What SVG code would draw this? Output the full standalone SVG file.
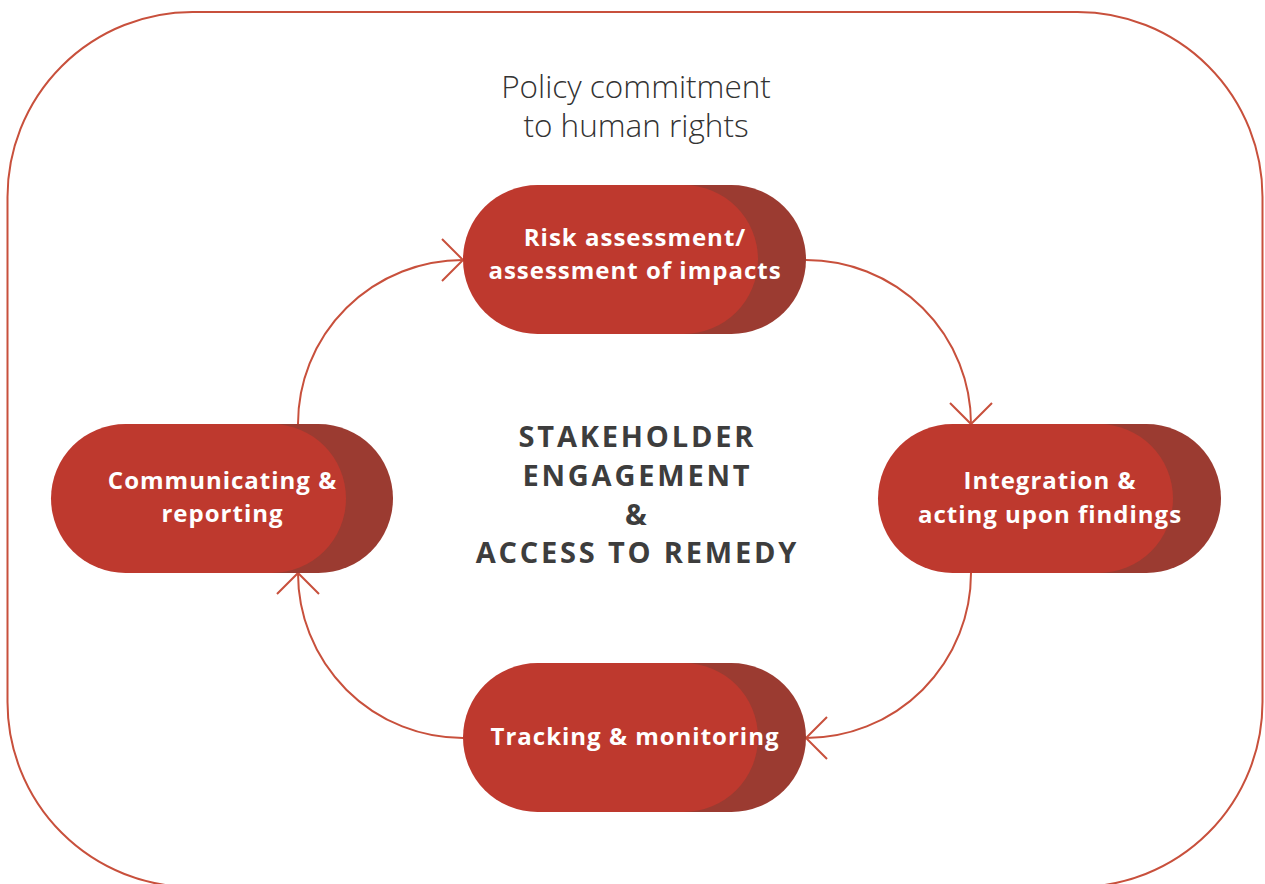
<svg xmlns="http://www.w3.org/2000/svg" width="1265" height="884" viewBox="0 0 1265 884">
<style>
.frame{fill:none;stroke:#c8503c;stroke-width:2}
.conn{fill:none;stroke:#c8503c;stroke-width:2}
.front{fill:#be392e}
.back{fill:#9b3b31}
.lbl{font-family:"Open Sans","Liberation Sans",sans-serif;font-weight:700;font-size:24px;fill:#ffffff;text-anchor:middle;letter-spacing:1px}
.center{font-family:"Open Sans","Liberation Sans",sans-serif;font-weight:700;font-size:29px;fill:#3d3d3d;text-anchor:middle;letter-spacing:2.8px}
.title{font-family:"Open Sans","Liberation Sans",sans-serif;font-weight:300;font-size:31.5px;fill:#333333;text-anchor:middle}
</style>
<defs>
<marker id="chev" markerUnits="userSpaceOnUse" markerWidth="30" markerHeight="50" refX="24" refY="24" orient="auto" viewBox="0 0 30 50">
<path d="M3,3 L24,24 L3,45" fill="none" stroke="#c8503c" stroke-width="2"/>
</marker>
</defs>
<rect class="frame" x="7.5" y="12" width="1255" height="875" rx="185" ry="185"/>
<text class="title" x="636" y="98">Policy commitment</text>
<text class="title" x="636" y="137">to human rights</text>
<g id="connectors">
<path class="conn" d="M298,424 A165,164 0 0 1 463,260" marker-end="url(#chev)"/>
<path class="conn" d="M806,260 A165,164 0 0 1 971,424" marker-end="url(#chev)"/>
<path class="conn" d="M971,573 A165,165 0 0 1 806,738" marker-end="url(#chev)"/>
<path class="conn" d="M463,738 A165,165 0 0 1 298,573" marker-end="url(#chev)"/>
</g>
<g id="node-risk">
<rect class="back" x="511" y="185" width="295" height="149" rx="74.5"/>
<rect class="front" x="463" y="185" width="295" height="149" rx="74.5"/>
<text class="lbl" x="635" y="246">Risk assessment/</text>
<text class="lbl" x="635" y="279">assessment of impacts</text>
</g>
<g id="node-integration">
<rect class="back" x="926" y="424" width="295" height="149" rx="74.5"/>
<rect class="front" x="878" y="424" width="295" height="149" rx="74.5"/>
<text class="lbl" x="1050" y="489">Integration &amp;</text>
<text class="lbl" x="1050" y="523">acting upon findings</text>
</g>
<g id="node-tracking">
<rect class="back" x="511" y="663" width="295" height="149" rx="74.5"/>
<rect class="front" x="463" y="663" width="295" height="149" rx="74.5"/>
<text class="lbl" x="635" y="745">Tracking &amp; monitoring</text>
</g>
<g id="node-communicating">
<rect class="back" x="98" y="424" width="295" height="149" rx="74.5"/>
<rect class="front" x="51" y="424" width="295" height="149" rx="74.5"/>
<text class="lbl" x="222.5" y="489">Communicating &amp;</text>
<text class="lbl" x="222.5" y="522">reporting</text>
</g>
<g id="center-label">
<text class="center" x="637.4" y="447">STAKEHOLDER</text>
<text class="center" x="637.4" y="486">ENGAGEMENT</text>
<text class="center" x="637.4" y="525">&amp;</text>
<text class="center" x="637.4" y="563">ACCESS TO REMEDY</text>
</g>
</svg>
